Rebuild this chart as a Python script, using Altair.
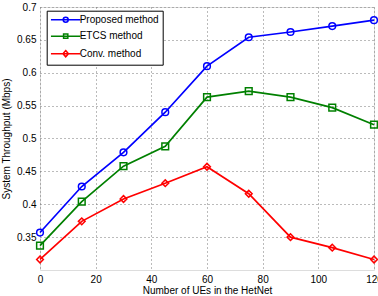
import altair as alt
import pandas as pd

ues = [0, 15, 30, 45, 60, 75, 90, 105, 120]
proposed = [0.357, 0.427, 0.479, 0.540, 0.610, 0.654, 0.662, 0.671, 0.680]
etcs = [0.337, 0.404, 0.458, 0.488, 0.563, 0.572, 0.563, 0.547, 0.521]
conv = [0.316, 0.374, 0.408, 0.432, 0.457, 0.416, 0.350, 0.334, 0.316]

methods = ["Proposed method", "ETCS method", "Conv. method"]
colors = ["#0000ff", "#008000", "#ff0000"]
shapes = ["circle", "square", "diamond"]
legend_paths = [
    "M-5.9,0H5.9M-1,0A1,1 0 1,1 1,0A1,1 0 1,1 -1,0",
    "M-5.9,0H5.9M-0.85,-0.85H0.85V0.85H-0.85Z",
    "M-5.9,0H5.9M0,-1.25L1.1,0L0,1.25L-1.1,0Z",
]
x_ticks = [0, 20, 40, 60, 80, 100, 120]
y_ticks = [0.35, 0.4, 0.45, 0.5, 0.55, 0.6, 0.65, 0.7]

rows = []
for m, vals in zip(methods, [proposed, etcs, conv]):
    for u, v in zip(ues, vals):
        rows.append({"ues": u, "thr": v, "method": m})
df = pd.DataFrame(rows)

FONT = "Liberation Sans"

x = alt.X(
    "ues:Q",
    scale=alt.Scale(domain=[0, 120], nice=False),
    axis=alt.Axis(
        values=x_ticks, format="d", title="Number of UEs in the HetNet",
        grid=True, gridDash=[1, 3], gridColor="#777777", gridWidth=1,
        ticks=False, domain=False, labelPadding=4, titlePadding=1,
        labelFlush=False,
        labelFont=FONT, titleFont=FONT, labelFontSize=10, titleFontSize=10,
        titleFontWeight="normal", labelColor="black", titleColor="black",
    ),
)
y = alt.Y(
    "thr:Q",
    scale=alt.Scale(domain=[0.3, 0.7], nice=False, zero=False),
    axis=alt.Axis(
        values=y_ticks, format="~g", title="System Throughput (Mbps)",
        grid=True, gridDash=[1, 3], gridColor="#777777", gridWidth=1,
        ticks=False, domain=False, labelPadding=4, titlePadding=5,
        labelFont=FONT, titleFont=FONT, labelFontSize=10, titleFontSize=10,
        titleFontWeight="normal", labelColor="black", titleColor="black",
    ),
)

leg = alt.Legend(
    title=None, orient="none", legendX=6.7, legendY=3.7,
    strokeColor="black", fillColor="white", padding=4, cornerRadius=0,
    labelFont=FONT, labelFontSize=10, labelColor="black",
    symbolSize=25, symbolStrokeWidth=1.5, symbolOpacity=1,
    symbolFillColor="transparent", symbolType="circle",
    rowPadding=4.5, symbolOffset=10, labelOffset=9,
)

color_scale = alt.Scale(domain=methods, range=colors)
color_enc = alt.Color("method:N", scale=color_scale, legend=leg)

lines = alt.Chart(df).mark_line(strokeWidth=1.7).encode(x=x, y=y, color=color_enc)

point_layers = [
    alt.Chart(df)
    .transform_filter(alt.datum.method == m)
    .mark_point(filled=False, strokeWidth=1.5, size=45, opacity=1, shape=s)
    .encode(x=x, y=y, color=color_enc)
    for m, s in zip(methods, shapes)
]

legend_layer = alt.Chart(df).mark_point(filled=False, opacity=0, strokeWidth=1.5).encode(
    x=x, y=y,
    color=color_enc,
    shape=alt.Shape("method:N", scale=alt.Scale(domain=methods, range=legend_paths), legend=leg),
)

chart = (
    alt.layer(lines, *point_layers, legend_layer)
    .properties(
        width=334, height=263,
        autosize=alt.AutoSizeParams(type="none"),
        padding={"left": 40, "top": 7, "right": 4, "bottom": 26},
    )
    .configure_view(stroke="black", strokeWidth=1)
    .configure(background="white")
)

chart.save("out.html", embed_options={"renderer": "svg", "actions": False})
